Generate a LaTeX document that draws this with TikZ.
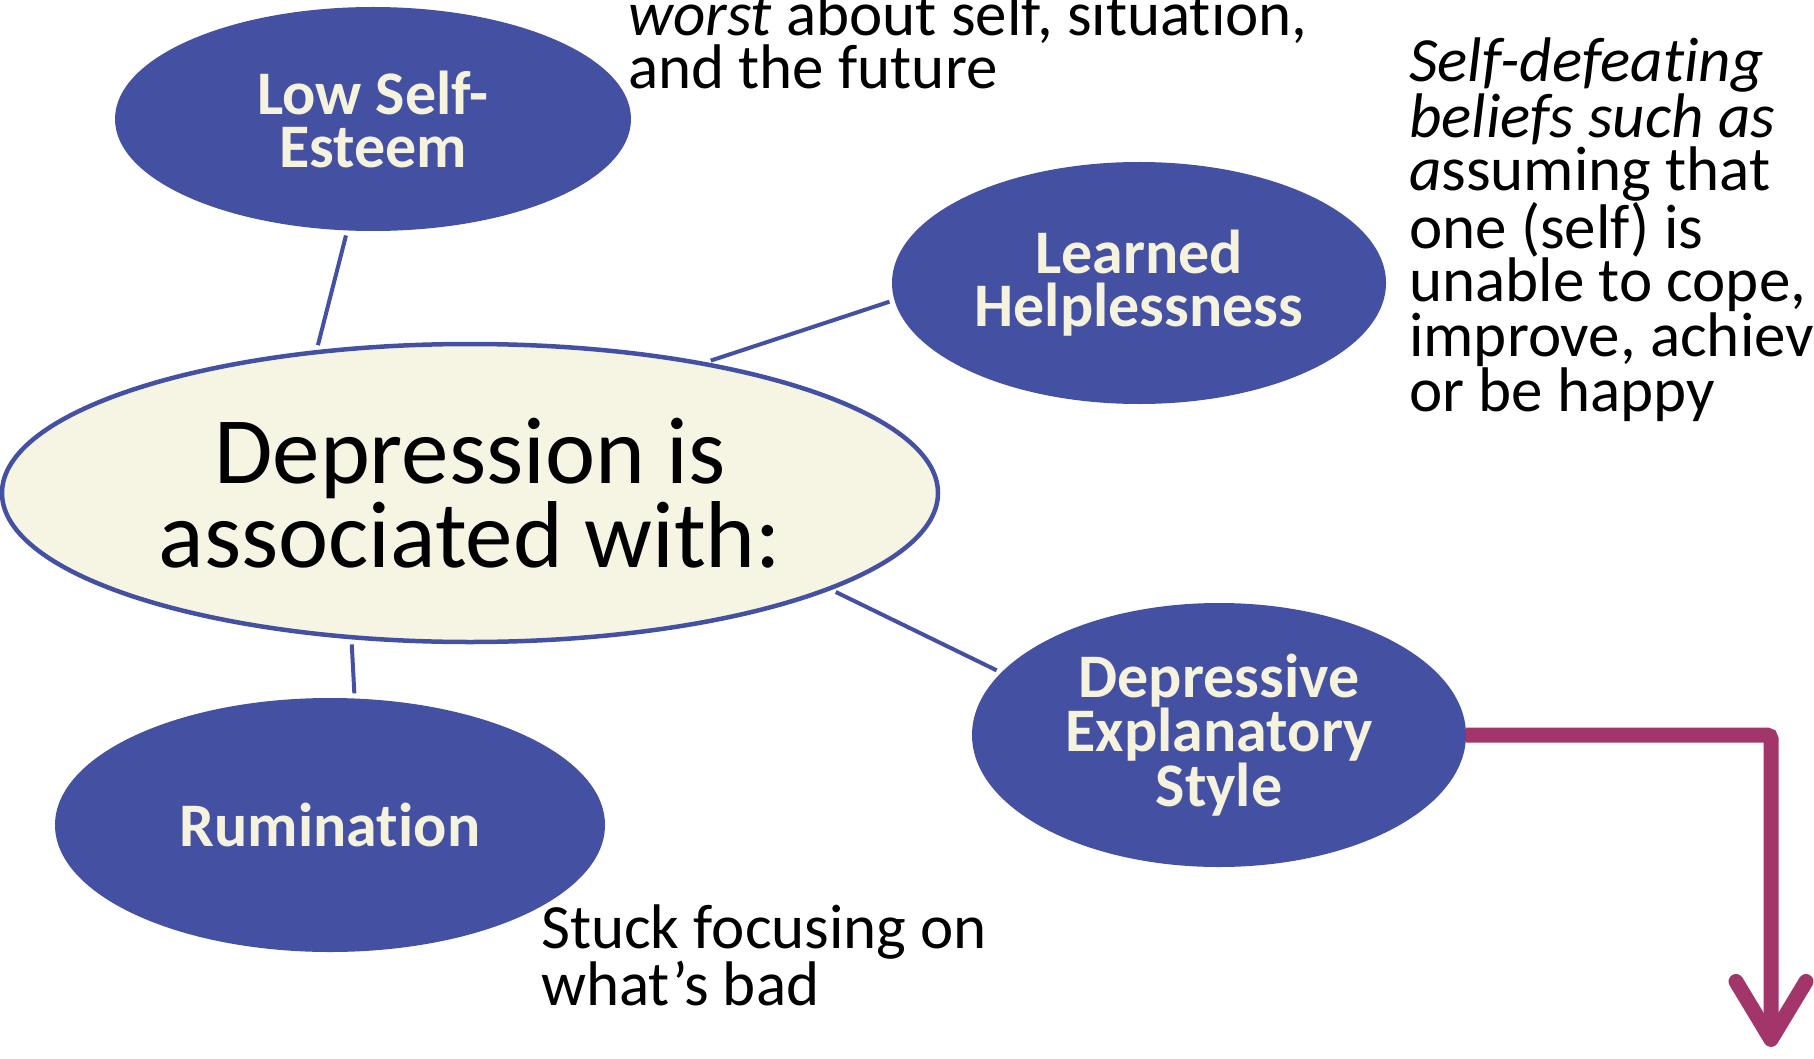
\documentclass[tikz,border=0pt]{standalone}
\usepackage{fontspec}
\setmainfont{Carlito}[Ligatures=NoCommon]
\usetikzlibrary{shapes.geometric,arrows.meta}
\definecolor{topicblue}{RGB}{68,80,162}
\definecolor{hubcream}{RGB}{246,244,227}
\definecolor{labelcream}{RGB}{245,242,222}
\definecolor{plum}{RGB}{162,54,107}
\tikzset{
  hub/.style={ellipse,draw=topicblue,line width=4.5pt,fill=hubcream,inner sep=0pt,
    align=center,font=\fontsize{95}{84}\selectfont},
  topic/.style={ellipse,fill=topicblue,text=labelcream,inner sep=0pt,
    align=center,font=\bfseries\fontsize{62}{53}\selectfont},
  link/.style={draw=topicblue,line width=4pt,shorten <=5pt,shorten >=5pt},
  note/.style={anchor=base west,align=left,inner sep=0pt,
    font=\fontsize{63}{53}\selectfont},
}
\begin{document}
\begin{tikzpicture}[x=1pt,y=-1pt]
\useasboundingbox (0,0) rectangle (1814,1059);
\clip (0,0) rectangle (1814,1059);
\node[hub,minimum width=936,minimum height=298] (centre) at (470,493) {Depression is\\associated with:};
\node[topic,minimum width=516,minimum height=224] (low) at (373,119) {Low Self-\\Esteem};
\node[topic,minimum width=494,minimum height=242] (help) at (1139,283) {Learned\\Helplessness};
\node[topic,minimum width=494,minimum height=264] (dep) at (1219,735) {Depressive\\Explanatory\\Style};
\node[topic,minimum width=550,minimum height=254] (rum) at (330,825) {Rumination};
\draw[link] (low.-103) -- (centre.137);
\draw[link] (centre.29) -- (help.184);
\draw[link] (centre.-15) -- (dep.164);
\draw[link] (centre.-129) -- (rum.79);
%
\node[note] (worst) at (628,89) {\textit{worst} about self, situation,\\and the future};
\node[note] (beliefs) at (1409,411) {\textit{Self-defeating}\\\textit{beliefs such as}\\\textit{a}ssuming that\\one (self) is\\unable to cope,\\improve, achieve,\\or be happy};
\node[note] (stuck) at (541,1005) {Stuck focusing on\\what’s bad};
\coordinate (drop) at (1771,1047);
\draw[plum,line width=15pt,rounded corners=4pt,
  -{Straight Barb[length=58pt,width=70pt,line cap=round,line join=round]}]
  (dep.east) -| (drop);
\end{tikzpicture}
\end{document}
